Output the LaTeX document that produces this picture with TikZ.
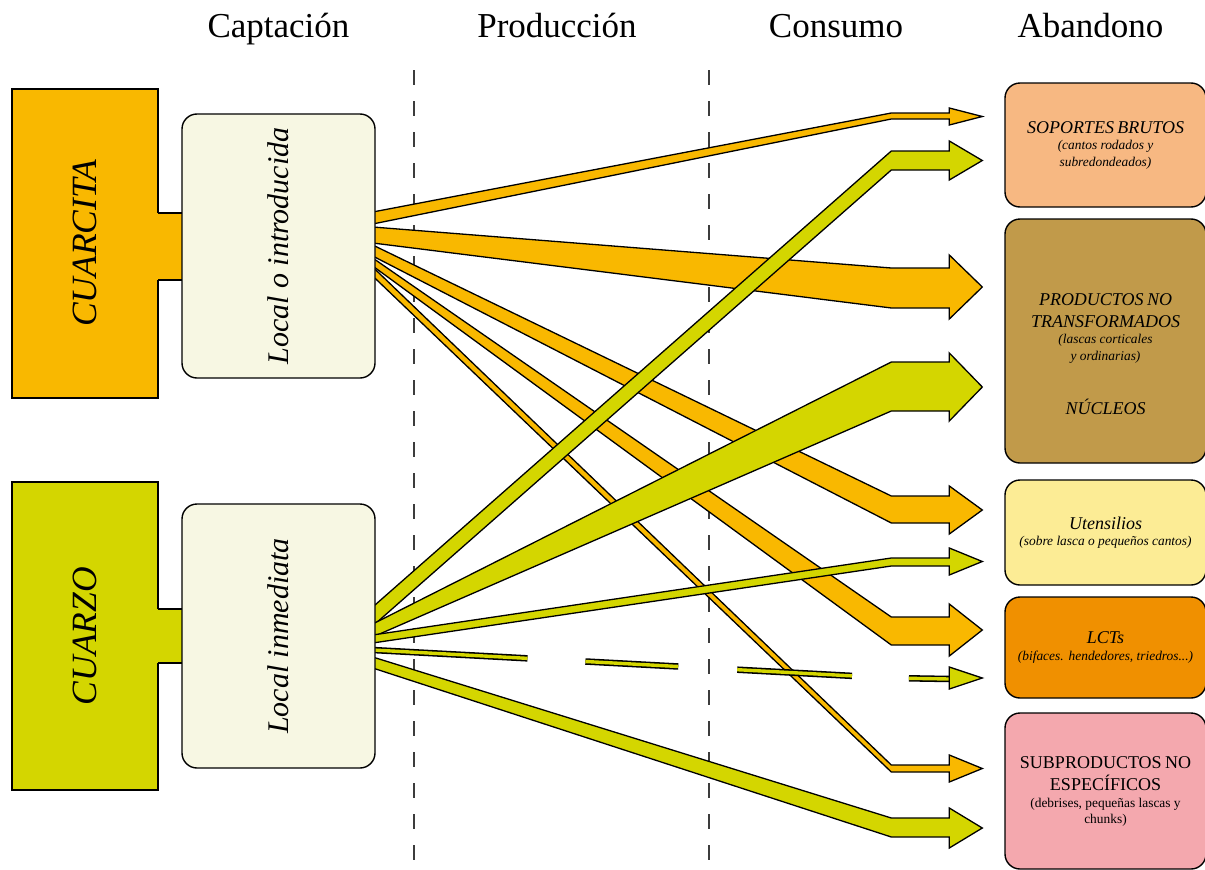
\documentclass[tikz,border=0pt]{standalone}
\usepackage{fontspec}
\setmainfont{Liberation Serif}
\usepackage{graphicx}
\usetikzlibrary{calc}
\definecolor{cuarcitaC}{RGB}{249,184,0}
\definecolor{cuarzoC}{RGB}{212,214,0}
\definecolor{beigeC}{RGB}{247,247,227}
\definecolor{peachC}{RGB}{247,184,130}
\definecolor{tanC}{RGB}{193,154,74}
\definecolor{yellowC}{RGB}{252,236,149}
\definecolor{lctC}{RGB}{240,144,0}
\definecolor{pinkC}{RGB}{244,168,174}
\definecolor{guideC}{RGB}{60,60,60}
\pgfdeclarelayer{guides}
\pgfdeclarelayer{flows}
\pgfsetlayers{guides,flows,main}
% #1 source node, #2 target node, #3 style, #4 #5 source top/bottom, #6 #7 shaft top/bottom at end, #8 #9 head top/bottom
\newcommand\flowarrow[9]{%
  \path[#3] let \p1=(#1.east), \p2=(#2.west) in
    ({\x1-3pt},{-#4pt}) -- ({\x2-113pt},{-#6pt}) -- ({\x2-55pt},{-#6pt})
    -- ({\x2-55pt},{-#8pt}) -- ({\x2-22pt},{-(#8+#9)/2*1pt})
    -- ({\x2-55pt},{-#9pt}) -- ({\x2-55pt},{-#7pt}) -- ({\x2-113pt},{-#7pt})
    -- ({\x1-3pt},{-#5pt}) -- cycle;}
\newcommand\bigline{\fontsize{18}{22}\selectfont}
\newcommand\smallline{\fontsize{13.4}{16.5}\selectfont}
\begin{document}
\begin{tikzpicture}[x=1pt,y=-1pt,
  stage/.style={font=\fontsize{35}{40}\selectfont, anchor=base, inner sep=0pt},
  material/.style={draw=black, line width=1.4pt, minimum width=146pt, inner sep=0pt,
    font=\fontsize{35.5}{40}\selectfont\itshape},
  origin/.style={draw=black, line width=1.4pt, rounded corners=15pt, fill=beigeC,
    minimum width=193pt, minimum height=264pt, inner sep=0pt,
    font=\fontsize{30}{36}\selectfont\itshape},
  result/.style={draw=black, line width=1.4pt, rounded corners=15pt, minimum width=201pt,
    text width=196pt, align=center, inner sep=0pt},
  orangeflow/.style={fill=cuarcitaC, draw=black, line width=1.3pt},
  greenflow/.style={fill=cuarzoC, draw=black, line width=1.3pt},
  guide/.style={draw=guideC, line width=1.4pt, dash pattern=on 15pt off 16pt},
  dashedflow/.style={dash pattern=on 155pt off 58pt on 93pt off 59pt on 115pt off 57pt on 80pt off 1pt}]
\useasboundingbox (0,0) rectangle (1205,870);

% stage headings
\node[stage] (hcap) at (278.5,37) {Captación};
\node[stage] (hprod) at (557,37) {Producción};
\node[stage] (hcons) at (836,37) {Consumo};
\node[stage] (haban) at (1090.5,37) {Abandono};

% guides
\begin{pgfonlayer}{guides}
\draw[guide] (414,70) -- (414,860);
\draw[guide] (709,70) -- (709,860);
\end{pgfonlayer}

% raw materials
\node[material, fill=cuarcitaC, minimum height=309pt] (cuarcita) at (85,243.5) {\rotatebox{90}{CUARCITA}};
\fill[cuarcitaC] (157,213) rectangle (184,280);
\draw[line width=1.4pt] (158,213) -- (183,213) (158,280) -- (183,280);
\node[material, fill=cuarzoC, minimum height=308pt] (cuarzo) at (85,636) {\rotatebox{90}{CUARZO}};
\fill[cuarzoC] (157,609) rectangle (184,663);
\draw[line width=1.4pt] (158,609) -- (183,609) (158,663) -- (183,663);

% origin
\node[origin] (loc1) at (278.5,246) {\rotatebox{90}{Local o introducida}};
\node[origin] (loc2) at (278.5,636) {\rotatebox{90}{Local inmediata}};

% results
\node[result, fill=peachC, minimum height=124pt] (sop) at (1105.5,145) {%
  {\bigline\itshape SOPORTES BRUTOS\par}%
  {\smallline\itshape (cantos rodados y\\ subredondeados)\par}};
\node[result, fill=tanC, minimum height=244pt] (prod) at (1105.5,341) {%
  {\bigline\itshape\rule{0pt}{38pt}PRODUCTOS NO\\ TRANSFORMADOS\par}%
  {\smallline\itshape (lascas corticales\\ y ordinarias)\par}%
  {\fontsize{18}{54}\selectfont\itshape NÚCLEOS\par}};
\node[result, fill=yellowC, minimum height=105pt] (ute) at (1105.5,532.5) {%
  {\bigline\itshape Utensilios\par}%
  {\smallline\itshape (sobre lasca o pequeños cantos)\par}};
\node[result, fill=lctC, minimum height=101pt] (lct) at (1105.5,647.5) {%
  {\bigline\itshape LCTs\par}%
  {\smallline\itshape (bifaces. hendedores, triedros...)\par}};
\node[result, fill=pinkC, minimum height=156pt] (sub) at (1105.5,791) {%
  {\bigline SUBPRODUCTOS NO\\ ESPECÍFICOS\par}%
  {\fontsize{13.4}{17}\selectfont (debrises, pequeñas lascas y\\[-1pt] chunks)\par}};

% flows
\begin{pgfonlayer}{flows}
\flowarrow{loc1}{sop}{orangeflow}{212}{224}{113}{119}{108}{125}
\flowarrow{loc1}{prod}{orangeflow}{227}{243}{268}{308}{255}{319}
\flowarrow{loc1}{ute}{orangeflow}{245}{256}{496}{523}{486}{534}
\flowarrow{loc1}{lct}{orangeflow}{258}{266}{617}{645}{604}{656}
\flowarrow{loc1}{sub}{orangeflow}{267}{276}{765}{772}{755}{782}
\flowarrow{loc2}{sop}{greenflow}{607}{626}{151}{170}{141}{180}
\flowarrow{loc2}{prod}{greenflow}{624}{637}{362}{411}{353}{421}
\flowarrow{loc2}{ute}{greenflow}{635}{643}{558}{566}{548}{575}
\flowarrow{loc2}{sub}{greenflow}{657}{668}{818}{837}{808}{848}
% dashed flow to LCTs
\draw[dashedflow, line width=6.5pt, black] let \p1=(loc2.east), \p2=(lct.west) in
  ({\x1-3pt},-650pt) -- ({\x2-113pt},-678pt) -- ({\x2-55pt},-679pt);
\draw[dashedflow, line width=3.4pt, cuarzoC] let \p1=(loc2.east), \p2=(lct.west) in
  ({\x1-3pt},-650pt) -- ({\x2-113pt},-678pt) -- ({\x2-55pt},-679pt);
\path[greenflow] let \p2=(lct.west) in
  ({\x2-55pt},-667pt) -- ({\x2-22pt},-678pt) -- ({\x2-55pt},-689pt) -- cycle;
\end{pgfonlayer}
\end{tikzpicture}
\end{document}
